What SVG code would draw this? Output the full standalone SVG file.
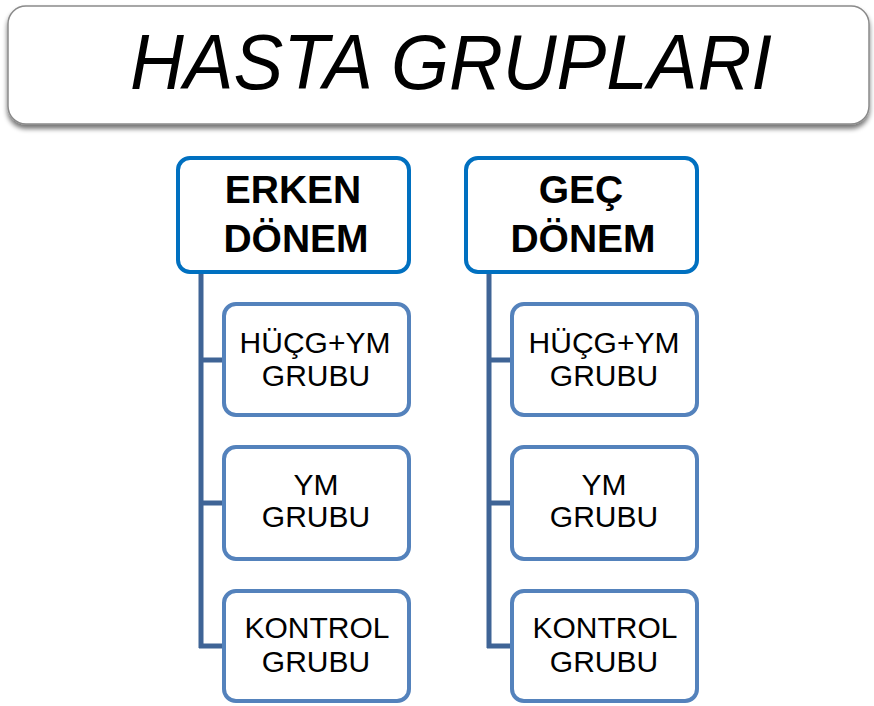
<svg xmlns="http://www.w3.org/2000/svg" width="874" height="706" viewBox="0 0 874 706">
<defs>
<filter id="sh" x="-5%" y="-20%" width="110%" height="150%">
<feGaussianBlur in="SourceAlpha" stdDeviation="2.5"/>
<feOffset dx="0" dy="4" result="b"/>
<feComponentTransfer><feFuncA type="linear" slope="0.55"/></feComponentTransfer>
<feMerge><feMergeNode/><feMergeNode in="SourceGraphic"/></feMerge>
</filter>
</defs>
<style>
.hdr{fill:#fff;stroke:#0070C0;stroke-width:4}
.box{fill:#fff;stroke:#5482BC;stroke-width:4}
.conn{fill:none;stroke:#3F6496;stroke-width:5}
.ht{font-family:"Liberation Sans",Arial,sans-serif;font-weight:bold;font-size:39px;fill:#000;text-anchor:middle}
.ct{font-family:"Liberation Sans",Arial,sans-serif;font-size:30px;fill:#000;text-anchor:middle}
</style>
<rect width="874" height="706" fill="#fff"/>
<g id="title">
<rect x="8" y="6" width="861" height="118" rx="18" fill="#fff" stroke="#8a8a8a" stroke-width="1.5" filter="url(#sh)"/>
<text x="451" y="89" font-family="Liberation Sans,Arial,sans-serif" font-style="italic" font-size="78" text-anchor="middle" textLength="642" lengthAdjust="spacingAndGlyphs">HASTA GRUPLARI</text>
</g>
<g id="connectors">
<path class="conn" d="M201,273 V648 M199,360 H225 M199,503 H225 M199,646 H225"/>
<path class="conn" d="M489,273 V648 M487,360 H512 M487,503 H512 M487,646 H512"/>
</g>
<g id="erken">
<rect class="hdr" x="178" y="158" width="231" height="114" rx="12"/>
<text class="ht" x="293" y="203">ERKEN</text>
<text class="ht" x="296" y="252">DÖNEM</text>
</g>
<g id="gec">
<rect class="hdr" x="466" y="158" width="231" height="114" rx="12"/>
<text class="ht" x="581" y="203">GEÇ</text>
<text class="ht" x="583" y="252">DÖNEM</text>
</g>
<g id="erken-hucg">
<rect class="box" x="224" y="304" width="185" height="111" rx="12"/>
<text class="ct" x="315" y="353">HÜÇG+YM</text>
<text class="ct" x="316" y="386">GRUBU</text>
</g>
<g id="erken-ym">
<rect class="box" x="224" y="447" width="185" height="112" rx="12"/>
<text class="ct" x="316" y="495">YM</text>
<text class="ct" x="316" y="527">GRUBU</text>
</g>
<g id="erken-kontrol">
<rect class="box" x="224" y="591" width="185" height="110" rx="12"/>
<text class="ct" x="317" y="638">KONTROL</text>
<text class="ct" x="316" y="672">GRUBU</text>
</g>
<g id="gec-hucg">
<rect class="box" x="512" y="304" width="185" height="111" rx="12"/>
<text class="ct" x="604" y="353">HÜÇG+YM</text>
<text class="ct" x="604" y="386">GRUBU</text>
</g>
<g id="gec-ym">
<rect class="box" x="512" y="447" width="185" height="112" rx="12"/>
<text class="ct" x="604" y="495">YM</text>
<text class="ct" x="604" y="527">GRUBU</text>
</g>
<g id="gec-kontrol">
<rect class="box" x="512" y="591" width="185" height="110" rx="12"/>
<text class="ct" x="605" y="638">KONTROL</text>
<text class="ct" x="604" y="672">GRUBU</text>
</g>
</svg>
